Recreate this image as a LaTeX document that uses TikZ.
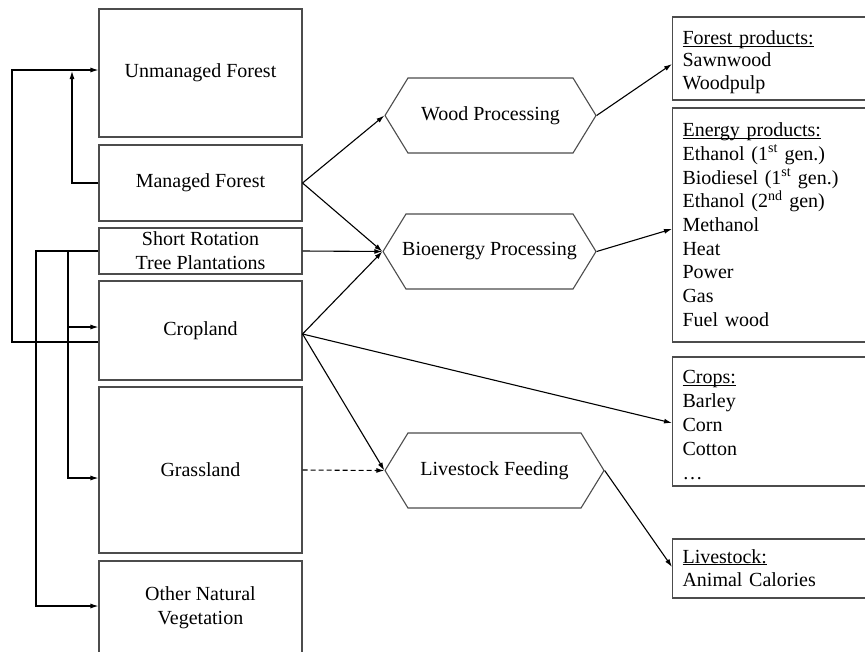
\documentclass[tikz,border=0pt]{standalone}
\usepackage{fontspec}
\setmainfont{Liberation Serif}
\usetikzlibrary{arrows.meta,shapes.symbols}
\definecolor{boxgray}{gray}{0.3}
\newcommand{\headline}[2][0pt]{\rule{0pt}{#1}\underline{\smash{#2}\vphantom{F}}}
\begin{document}
\begin{tikzpicture}[x=1pt,y=-1pt,line width=1.1pt,>={Latex[length=8pt,width=5pt]},
    font=\fontsize{20}{24}\selectfont,
    landbox/.style={draw=boxgray,minimum width=203pt,inner sep=0pt,align=center},
    procbox/.style={draw=boxgray,signal,signal to=east and west,signal pointer angle=117,
        minimum height=75pt,inner sep=0pt},
    prodbox/.style={draw=boxgray,anchor=west,text width=188pt,inner xsep=10pt,inner ysep=0pt,
        align=left,font=\fontsize{20}{23.7}\selectfont}]
\useasboundingbox (0,0) rectangle (865,651);
\clip (0,0) rectangle (865,651);
% land use types
\node [landbox,minimum height=128pt] (uf) at (200.5,73) {Unmanaged Forest};
\node [landbox,minimum height=76pt] (mf) at (200.5,183) {Managed Forest};
\node [landbox,minimum height=46pt] (sr) at (200.5,251) {Short Rotation\\Tree Plantations};
\node [landbox,minimum height=99pt] (crop) at (200.5,330.5) {Cropland};
\node [landbox,minimum height=166pt] (gl) at (200.5,470) {Grassland};
\node [landbox,minimum height=94pt] (onv) at (200.5,608) {Other Natural\\Vegetation};
% processing
\node [procbox,minimum width=211pt] (wood) at (490.5,115.5) {Wood Processing};
\node [procbox,minimum width=213pt] (bio) at (489.5,251.5) {\makebox[160pt]{Bioenergy Processing}};
\node [procbox,minimum width=219pt] (live) at (494.5,470.5) {Livestock Feeding};
% products
\node [prodbox,minimum height=83pt,font=\fontsize{20}{22.5}\selectfont] (fp) at (672,58.5)
    {\headline[21pt]{Forest products:}\\Sawnwood\\Woodpulp};
\node [prodbox,minimum height=234pt] (ep) at (672,225)
    {\headline{Energy products:}\\Ethanol (1\textsuperscript{st} gen.)\\Biodiesel (1\textsuperscript{st} gen.)\\
     Ethanol (2\textsuperscript{nd} gen)\\Methanol\\Heat\\Power\\Gas\\Fuel wood};
\node [prodbox,minimum height=129pt,font=\fontsize{20}{24}\selectfont] (cp) at (672,421.5)
    {\headline[20pt]{Crops:}\\Barley\\Corn\\Cotton\\\ldots};
\node [prodbox,minimum height=59pt] (lp) at (672,568.5)
    {\headline{Livestock:}\\Animal Calories};
% land use change
\draw [->] ([yshift=-11.5pt]crop.west) -| (12,70) -- ([yshift=3pt]uf.west);
\draw [->] (mf.west) -| (72,71);
\draw [->] (sr.west) -- (36,251) |- ([yshift=2pt]onv.west);
\draw [->] (68,251) |- ([yshift=-8pt]gl.west);
\draw [->] (68,327) -- ([yshift=3.5pt]crop.west);
% flows to processing and products
\draw [->] (mf.east) -- (wood.west);
\draw [->] (mf.east) -- (bio.west);
\draw [->] (sr.east) -- (bio.west);
\draw [->] ([yshift=-3.5pt]crop.east) -- (bio.west);
\draw [->] ([yshift=-3.5pt]crop.east) -- ([yshift=-1.5pt]cp.west);
\draw [->] ([yshift=-3.5pt]crop.east) -- (live.west);
\draw [->,dash pattern=on 5pt off 3pt] (gl.east) -- (live.west);
\draw [->] (wood.east) -- ([yshift=-5.5pt]fp.west);
\draw [->] (bio.east) -- ([yshift=-4pt]ep.west);
\draw [->] (live.east) -- ([yshift=1.5pt]lp.west);
\end{tikzpicture}
\end{document}
